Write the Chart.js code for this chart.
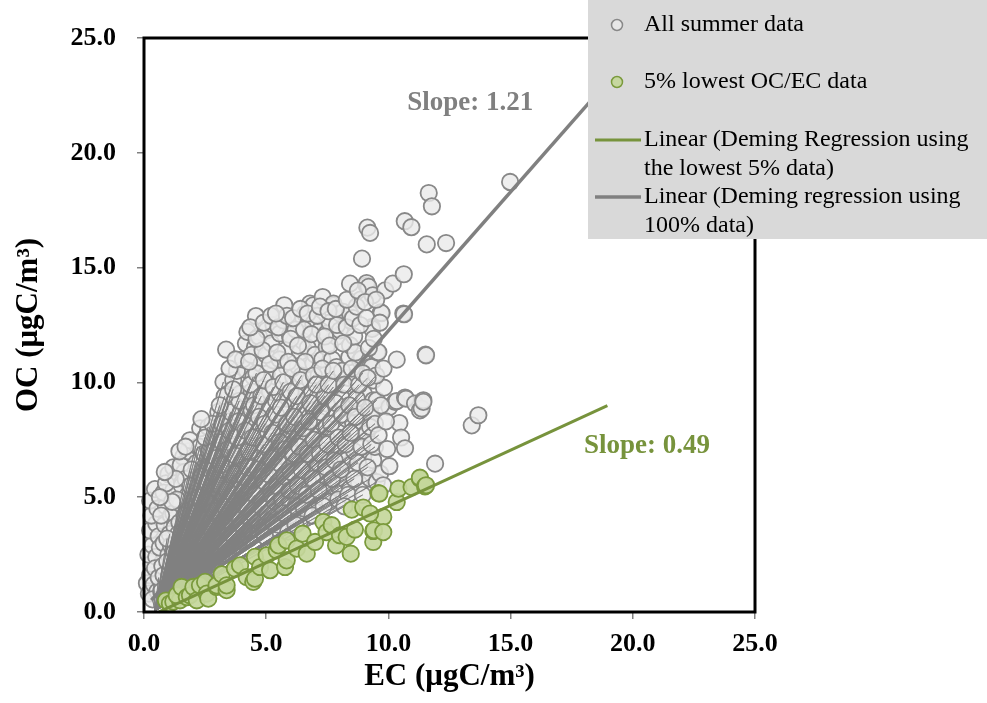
<!DOCTYPE html>
<html>
<head>
<meta charset="utf-8">
<title>OC vs EC – summer</title>
<script src="https://cdn.jsdelivr.net/npm/chart.js@4.4.1/dist/chart.umd.min.js"></script>
<style>
  html, body { margin: 0; padding: 0; background: #ffffff; }
  #wrap { position: relative; width: 987px; height: 703px; }
</style>
</head>
<body>
<div id="wrap"><canvas id="c" width="987" height="703"></canvas></div>
<script>
// ---------- data (EC, OC in µgC/m³) ----------
// all summer samples, edge and outlying samples
const summerPoints = [
  [0.12,1.25],[0.2,0.8],[0.25,1.6],[0.3,2.1],[0.18,2.5],[0.35,2.9],[0.25,3.55],[0.5,3.85],[0.3,4.2],[0.25,4.85],
  [0.45,5.35],[0.55,4.5],[0.6,3.3],[0.5,2.4],[0.45,1.9],[0.4,1.2],[0.55,0.9],[0.35,0.55],[0.65,2.8],[0.6,1.5],
  [0.75,2.0],[0.8,3.0],[0.85,3.8],[0.9,4.6],[0.8,5.2],[1.0,2.5],[1.05,3.4],[1.1,4.2],[1.2,5.3],[1.2,4.3],
  [1.15,1.5],[0.95,1.2],[1.0,6.0],[1.2,6.3],[0.9,5.6],[1.1,2.9],[1.25,3.7],[0.7,4.2],
  [1.35,2.2],[1.4,3.0],[1.45,3.9],[1.5,4.7],[1.55,5.5],[1.6,6.75],[1.65,6.1],[1.7,2.6],[1.75,3.5],[1.8,4.4],
  [1.45,1.6],[1.6,1.9],[1.5,6.4],[1.8,5.1],[1.7,5.8],[1.35,4.9],[1.8,7.0],
  [1.9,2.1],[1.95,3.1],[2.0,4.0],[2.05,4.9],[2.1,5.7],[2.15,6.5],[2.2,7.2],[2.3,8.0],[1.88,7.48],[2.29,7.19],
  [2.25,2.7],[2.3,3.6],[2.35,4.5],[2.4,5.3],[2.4,6.1],[2.0,1.9],[2.2,2.3],[2.45,6.9],[2.1,3.5],
  [2.55,2.4],[2.6,3.2],[2.65,4.1],[2.7,5.0],[2.75,5.8],[2.8,6.6],[2.85,7.4],[2.63,8.06],[2.9,2.8],[2.95,3.7],
  [3.0,4.6],[2.9,5.4],[3.0,6.2],[3.04,8.71],[2.95,7.7],[2.6,1.9],[2.8,2.2],[3.0,7.0],[2.7,6.3],
  [3.1,2.6],[3.15,3.3],[3.2,4.2],[3.25,5.1],[3.3,6.0],[3.35,6.8],[3.38,8.64],[3.25,7.91],[3.25,10.02],[3.36,11.43],
  [3.45,9.51],[3.5,3.0],[3.55,3.9],[3.6,4.8],[3.5,5.6],[3.55,6.4],[3.6,7.3],[3.65,10.09],[3.2,7.4],[3.4,2.5],
  [3.6,8.2],[3.45,9.0],
  [3.7,2.9],[3.75,3.6],[3.8,4.4],[3.85,5.3],[3.9,6.1],[3.93,7.77],[3.93,9.51],[3.95,6.9],[4.0,8.6],[4.05,3.3],
  [4.1,4.0],[4.15,4.9],[4.2,5.8],[4.2,8.35],[4.2,10.53],[4.17,11.69],[4.23,12.2],[4.1,6.6],[4.0,7.3],[4.15,9.2],
  [3.8,10.5],[4.05,11.0],[3.7,9.0],
  [4.3,3.2],[4.35,4.0],[4.4,4.8],[4.45,5.6],[4.47,10.24],[4.54,11.54],[4.58,12.89],[4.61,9.36],[4.5,6.5],[4.55,7.3],
  [4.6,8.1],[4.65,3.6],[4.7,4.4],[4.75,5.2],[4.8,6.0],[4.7,6.9],[4.8,7.7],[4.4,8.8],[4.75,9.9],[4.4,11.2],
  [4.8,10.8],[4.7,12.0],[4.4,9.6],
  [4.9,3.9],[4.95,4.7],[5.0,5.5],[5.02,7.77],[5.02,10.38],[5.02,12.27],[5.05,6.3],[5.1,7.1],[5.1,8.9],[5.15,9.6],
  [5.2,4.2],[5.25,5.0],[5.29,8.35],[5.29,10.96],[5.3,5.9],[5.35,6.7],[5.4,7.5],[5.0,11.2],[5.3,12.5],[5.2,11.7],
  [5.4,9.2],[5.35,3.6],[4.95,3.3],
  [5.5,4.4],[5.55,5.2],[5.56,9.51],[5.56,12.13],[5.6,6.1],[5.65,6.9],[5.7,7.8],[5.74,13.36],[5.75,8.6],[5.8,4.7],
  [5.84,10.67],[5.85,5.6],[5.9,9.3],[5.95,6.5],[5.97,12.05],[6.0,7.3],[6.0,8.1],[5.6,10.3],[5.8,11.4],[5.5,3.8],
  [5.7,12.7],[5.9,3.5],[5.55,11.0],
  [6.1,4.3],[6.11,10.24],[6.15,5.1],[6.2,5.9],[6.25,6.8],[6.3,7.6],[6.38,8.21],[6.38,11.32],[6.35,9.0],[6.4,4.0],
  [6.45,4.9],[6.5,5.7],[6.52,12.78],[6.55,6.6],[6.59,13.0],[6.6,7.4],[6.6,9.7],[6.3,10.7],[6.5,11.8],[6.2,12.3],
  [6.6,8.6],[6.45,10.3],
  [6.7,4.5],[6.75,5.3],[6.79,10.09],[6.79,13.43],[6.8,6.2],[6.85,7.0],[6.9,7.9],[6.93,10.82],[6.93,12.56],[6.93,13.36],
  [6.95,8.8],[7.0,4.8],[7.05,5.7],[7.07,11.83],[7.1,6.5],[7.15,9.4],[7.2,7.3],[7.2,12.27],[7.2,8.3],[6.7,11.5],
  [7.0,11.2],[7.15,10.3],[6.85,9.5],
  [7.31,13.72],[7.3,5.0],[7.35,5.9],[7.4,6.8],[7.45,7.7],[7.47,8.06],[7.47,9.08],[7.47,11.54],[7.47,12.13],[7.5,10.4],
  [7.6,5.3],[7.65,6.2],[7.7,7.1],[7.75,9.8],[7.75,13.36],[7.75,13.43],[7.8,8.6],[7.3,11.0],[7.6,12.6],[7.7,11.0],
  [7.4,9.4],[7.6,4.8],
  [7.88,10.67],[7.88,11.98],[7.88,6.03],[7.95,5.5],[8.0,7.0],[8.02,12.27],[8.02,13.0],[8.05,7.9],[8.1,9.3],[8.15,13.07],
  [8.2,5.8],[8.25,6.6],[8.3,8.4],[8.35,10.2],[8.4,11.1],[8.43,11.62],[8.43,12.7],[8.43,14.3],[8.43,13.0],[8.43,5.37],
  [8.4,7.4],[8.1,10.5],
  [8.56,8.93],[8.56,8.21],[8.56,6.17],[8.6,7.0],[8.7,10.09],[8.75,7.8],[8.84,10.96],[8.87,13.61],[8.91,11.04],[8.92,15.39],
  [8.97,6.75],[9.0,9.5],[8.6,12.0],[8.8,5.6],[8.65,11.3],[8.9,8.3],[8.7,9.3],
  [9.11,14.23],[9.11,14.33],[9.11,7.77],[9.14,16.74],[9.19,14.16],[9.25,16.51],[9.25,10.67],[9.25,8.64],[9.25,8.78],[9.25,5.81],
  [9.32,12.41],[9.32,10.67],[9.32,8.49],[9.25,8.06],[9.33,12.33],[9.36,13.79],[9.38,10.09],[9.38,9.22],[9.38,6.61],[9.45,7.19],
  [9.52,9.22],[9.52,5.66],[9.55,11.32],[9.59,11.32],[9.66,6.03],[9.69,13.05],[9.72,13.02],[9.79,5.52],
  [9.82,9.77],[9.87,14.01],[10.04,6.35],[10.04,8.93],[10.18,14.3],[10.27,9.15],[10.34,10.99],[10.34,9.19],[10.45,8.23],[10.52,7.6],
  [10.61,13.0],[10.63,14.71],[10.64,12.97],[10.67,17.02],[10.68,9.34],[10.68,7.13],[10.72,9.29],[10.94,16.76],[11.09,9.08],[11.29,8.78],
  [11.36,8.86],[11.43,9.22],[11.43,9.15],[11.52,11.21],[11.54,11.18],[11.57,16.01],[11.65,18.25],[11.78,17.67],[11.91,6.46],[12.36,16.07],
  [13.41,8.13],[13.68,8.57],[14.98,18.73]
];

// all summer samples, the packed core of the cloud
const summerCore = [
  [0.7,0.9],[0.8,1.6],[0.95,2.2],[1.05,1.0],[1.3,1.3],[1.25,2.6],[1.4,3.4],[1.55,2.5],[1.65,4.2],[1.75,1.4],
  [1.85,3.0],[1.9,5.5],[1.95,6.2],[0.95,3.2],[1.15,4.8],[1.3,5.8],[0.65,5.0],[0.85,6.1],[1.45,7.0],[1.7,7.2],
  [2.05,2.6],[2.15,4.3],[2.25,5.0],[2.35,5.9],[2.45,3.1],[2.5,4.0],[2.55,4.8],[2.6,5.6],[2.65,7.0],[2.7,2.7],
  [2.75,3.6],[2.85,4.4],[2.9,6.0],[2.95,6.7],[2.5,7.6],[2.8,8.2],[2.35,8.4],[2.6,2.2],[2.2,1.6],[2.45,1.8],
  [3.05,3.1],[3.1,5.5],[3.15,6.4],[3.2,8.2],[3.3,4.6],[3.35,3.7],[3.4,5.3],[3.45,7.1],[3.5,7.9],[3.55,8.7],
  [3.6,3.4],[3.65,5.1],[3.7,6.0],[3.75,6.8],[3.8,7.6],[3.85,8.3],[3.9,9.2],[3.95,4.0],[3.3,9.4],[3.5,10.6],
  [3.75,11.0],[3.9,3.1],[3.1,9.0],[3.65,9.7],
  [4.05,5.2],[4.1,5.9],[4.15,7.9],[4.25,4.5],[4.25,6.3],[4.3,7.0],[4.35,9.9],[4.4,3.8],[4.45,7.6],[4.5,9.0],
  [4.55,5.1],[4.6,10.4],[4.65,6.2],[4.7,8.5],[4.75,3.9],[4.8,9.4],[4.85,11.4],[4.9,5.7],[4.9,7.3],[4.95,8.2],
  [4.3,10.9],[4.6,11.9],[4.35,12.4],[4.9,12.6],[4.1,3.5],[4.55,4.1],[4.85,4.5],[4.9,10.1],
  [5.05,4.3],[5.1,6.0],[5.15,10.8],[5.2,6.7],[5.25,7.8],[5.3,9.8],[5.35,4.8],[5.4,8.6],[5.45,11.3],[5.45,5.5],
  [5.5,6.5],[5.55,7.4],[5.6,8.9],[5.65,4.9],[5.7,10.0],[5.75,5.9],[5.8,7.1],[5.85,8.2],[5.9,10.9],[5.95,4.2],
  [6.0,11.9],[6.0,9.6],[5.2,12.9],[5.5,12.4],[5.85,12.9],[5.3,3.9],[5.7,4.3],[5.95,5.3],[5.4,13.0],[6.0,6.1],
  [6.05,10.6],[6.1,6.9],[6.15,8.5],[6.2,4.6],[6.25,9.4],[6.3,11.6],[6.3,5.5],[6.35,7.2],[6.4,10.1],[6.45,6.2],
  [6.5,8.0],[6.55,12.3],[6.55,4.5],[6.6,10.9],[6.65,5.1],[6.7,6.9],[6.75,8.3],[6.8,9.1],[6.85,12.1],[6.9,5.8],
  [6.95,7.5],[6.95,10.3],[6.1,12.8],[6.4,13.2],[6.7,13.0],[6.2,3.8],[6.9,4.2],
  [7.05,9.9],[7.1,12.9],[7.15,5.3],[7.2,6.9],[7.25,8.7],[7.3,10.6],[7.35,4.6],[7.4,12.0],[7.45,6.3],[7.5,7.3],
  [7.55,9.9],[7.6,11.6],[7.65,8.2],[7.7,5.8],[7.75,10.5],[7.8,6.6],[7.85,9.1],[7.9,12.5],[7.95,7.6],[7.95,4.9],
  [7.2,13.3],[7.55,13.1],[7.85,13.2],
  [8.05,6.2],[8.1,8.6],[8.15,11.7],[8.2,9.9],[8.25,7.3],[8.3,12.4],[8.35,5.1],[8.4,9.0],[8.45,7.8],[8.5,10.6],
  [8.55,12.8],[8.6,5.8],[8.65,8.5],[8.7,13.3],[8.75,6.5],[8.8,9.9],[8.85,12.5],[8.9,7.2],[8.95,10.4],[8.3,13.6],
  [8.75,14.0],[8.2,4.6],[8.95,5.1],
  [9.05,8.9],[9.1,12.8],[9.15,6.3],[9.2,11.5],[9.3,7.3],[9.4,11.9],[9.45,8.2],[9.5,10.3],[9.6,7.7],[9.65,12.6],
  [9.7,9.0],[9.8,10.6],[9.9,8.3],[9.95,7.1],[9.05,13.5],[9.5,13.6],[9.15,10.2]
];

// 5 % of samples with the lowest OC/EC ratio
const lowestPoints = [
  [0.9,0.5],[1.06,0.37],[1.2,0.45],[1.47,0.51],[1.34,0.73],[1.54,1.09],[1.75,0.65],[1.88,0.73],[2.02,1.09],[2.16,0.51],
  [2.29,1.16],[2.5,1.31],[2.57,0.8],[2.63,0.58],[2.97,1.09],[2.97,1.16],[3.18,1.64],[3.38,0.95],[3.38,1.16],[3.72,1.89],
  [3.93,2.03],[4.2,1.52],[4.47,1.31],[4.54,1.45],[4.54,2.4],[4.75,1.96],[5.02,2.47],[5.16,1.82],[5.43,2.69],[5.5,2.9],
  [5.77,1.96],[5.84,2.25],[5.84,3.12],[6.25,2.76],[6.49,3.41],[6.66,2.54],[7.0,3.05],[7.34,3.92],[7.47,3.48],[7.68,3.78],
  [7.86,2.9],[8.02,3.34],[8.29,3.27],[8.46,2.54],[8.5,4.46],[8.63,3.59],[8.97,4.55],[9.38,3.05],[9.38,3.53],[9.41,3.56],
  [9.59,5.18],[9.63,5.16],[9.79,4.14],[9.79,3.48],[10.34,4.79],[10.41,5.37],[10.95,5.44],[11.29,5.81],[11.29,5.85],[11.5,5.47],
  [11.54,5.52],[9.25,4.29]
];

// Deming regression fits: slope, intercept and EC span of each drawn line
const slopeAll = 1.21, interceptAll = 0.15, spanAll = [0.3, 19.5];
const slopeLow = 0.49, interceptLow = -0.3, spanLow = [0.62, 18.96];

// common origin of the thin guide rays through the bulk of the data,
// drawn only to samples inside these EC, OC and OC/EC limits
const rayOrigin = [0.45, 0.05];
const rayMaxEC = 9.6, rayMaxOC = 10.5, rayMaxRatio = 3.5;

const axisTicks = [0, 5, 10, 15, 20, 25];
const legendLabels = [
  ['All summer data'],
  ['5% lowest OC/EC data'],
  ['Linear (Deming Regression using', 'the lowest 5% data)'],
  ['Linear (Deming regression using', '100% data)']
];

// slope annotations placed at (EC, OC)
const slopeNoteAll = { text: 'Slope: 1.21', at: [13.35, 22.15] };
const slopeNoteLow = { text: 'Slope: 0.49', at: [20.58, 7.22] };

// ---------- styling ----------
const SERIF = "'Liberation Serif', 'Times New Roman', serif";
const GREY_LINE = '#808080';
const GREEN_LINE = '#77933c';

const toXY = p => ({ x: p[0], y: p[1] });
const fitLine = (m, b, span) => span.map(x => ({ x, y: m * x + b }));

const allSummer = summerPoints.concat(summerCore);

const rayData = [];
allSummer
  .filter(p => p[0] <= rayMaxEC && p[1] <= rayMaxOC && p[1] / p[0] <= rayMaxRatio)
  .forEach(p => { rayData.push(toXY(rayOrigin), toXY(p)); });

const datasets = [
  { // drawn on top
    label: legendLabels[3].join(' '),
    data: fitLine(slopeAll, interceptAll, spanAll),
    showLine: true, borderColor: GREY_LINE, borderWidth: 3.5, pointRadius: 0,
    order: 0, clip: false
  },
  {
    label: legendLabels[2].join(' '),
    data: fitLine(slopeLow, interceptLow, spanLow),
    showLine: true, borderColor: GREEN_LINE, borderWidth: 3, pointRadius: 0,
    order: 1, clip: false
  },
  {
    label: legendLabels[1][0],
    data: lowestPoints.map(toXY),
    pointRadius: 8.2, pointBorderWidth: 1.8,
    pointBackgroundColor: 'rgba(196,215,155,0.92)', pointBorderColor: '#7a9a3c',
    order: 2, clip: false
  },
  {
    label: 'rays',
    data: rayData,
    showLine: true, borderColor: 'rgba(128,128,128,0.85)', borderWidth: 1, pointRadius: 0,
    order: 3, clip: false
  },
  {
    label: legendLabels[0][0],
    data: allSummer.map(toXY),
    pointRadius: 8.2, pointBorderWidth: 1.8,
    pointBackgroundColor: 'rgba(234,234,234,0.8)', pointBorderColor: '#888888',
    order: 4, clip: false
  }
];

// frame round the plot area, drawn over the markers
const framePlugin = {
  id: 'frame',
  afterDatasetsDraw(chart) {
    const { ctx, chartArea: a } = chart;
    ctx.save();
    ctx.strokeStyle = '#000';
    ctx.lineWidth = 3;
    ctx.strokeRect(a.left, a.top, a.right - a.left, a.bottom - a.top);
    ctx.restore();
  }
};

// slope annotations
const notesPlugin = {
  id: 'notes',
  afterDatasetsDraw(chart) {
    const { ctx, scales: { x, y } } = chart;
    ctx.save();
    ctx.font = 'bold 27px ' + SERIF;
    ctx.textAlign = 'center';
    ctx.textBaseline = 'middle';
    ctx.fillStyle = GREY_LINE;
    ctx.fillText(slopeNoteAll.text, x.getPixelForValue(slopeNoteAll.at[0]), y.getPixelForValue(slopeNoteAll.at[1]));
    ctx.fillStyle = GREEN_LINE;
    ctx.fillText(slopeNoteLow.text, x.getPixelForValue(slopeNoteLow.at[0]), y.getPixelForValue(slopeNoteLow.at[1]));
    ctx.restore();
  }
};

// legend panel in the upper right corner
const legendPlugin = {
  id: 'panelLegend',
  afterDraw(chart) {
    const { ctx } = chart;
    const ds = chart.data.datasets;
    const box = { x: 588, y: 0, w: 399, h: 239 };
    ctx.save();
    ctx.fillStyle = '#d9d9d9';
    ctx.fillRect(box.x, box.y, box.w, box.h);
    ctx.font = '24px ' + SERIF;
    ctx.textAlign = 'left';
    ctx.textBaseline = 'middle';
    const textX = 644;
    const rows = [
      { kind: 'point', ds: ds[4], lines: legendLabels[0], y: 25 },
      { kind: 'point', ds: ds[2], lines: legendLabels[1], y: 82 },
      { kind: 'line', ds: ds[1], lines: legendLabels[2], y: 140 },
      { kind: 'line', ds: ds[0], lines: legendLabels[3], y: 197 }
    ];
    rows.forEach(r => {
      if (r.kind === 'point') {
        ctx.beginPath();
        ctx.arc(617, r.y, 5.5, 0, Math.PI * 2);
        ctx.fillStyle = r.ds.pointBackgroundColor;
        ctx.fill();
        ctx.lineWidth = 1.5;
        ctx.strokeStyle = r.ds.pointBorderColor;
        ctx.stroke();
      } else {
        ctx.beginPath();
        ctx.moveTo(595, r.y);
        ctx.lineTo(641, r.y);
        ctx.lineWidth = r.ds.borderWidth;
        ctx.strokeStyle = r.ds.borderColor;
        ctx.stroke();
      }
      ctx.fillStyle = '#000';
      r.lines.forEach((t, i) => ctx.fillText(t, textX, r.y + i * 29));
    });
    ctx.restore();
  }
};

const tickFont = { family: SERIF, size: 26, weight: 'bold' };
const titleFont = { family: SERIF, size: 31, weight: 'bold' };

new Chart(document.getElementById('c').getContext('2d'), {
  type: 'scatter',
  data: { datasets },
  options: {
    responsive: false,
    animation: false,
    events: [],
    layout: { padding: { left: 0, right: 232, top: 38, bottom: 0 } },
    plugins: { legend: { display: false }, tooltip: { enabled: false } },
    scales: {
      x: {
        type: 'linear', min: axisTicks[0], max: axisTicks[axisTicks.length - 1],
        afterBuildTicks: s => { s.ticks = axisTicks.map(v => ({ value: v })); },
        ticks: { callback: v => Number(v).toFixed(1), font: tickFont, color: '#000', padding: 10, maxRotation: 0 },
        grid: { drawOnChartArea: false, tickLength: 7, color: '#808080', lineWidth: 1.5 },
        border: { display: false },
        title: { display: true, text: 'EC (μgC/m³)', font: titleFont, color: '#000', padding: { top: 0, bottom: 7 } },
        afterFit: s => { s.height = 91; }
      },
      y: {
        type: 'linear', min: axisTicks[0], max: axisTicks[axisTicks.length - 1],
        afterBuildTicks: s => { s.ticks = axisTicks.map(v => ({ value: v })); },
        ticks: { callback: v => Number(v).toFixed(1), font: tickFont, color: '#000', padding: 21 },
        grid: { drawOnChartArea: false, tickLength: 7, color: '#808080', lineWidth: 1.5 },
        border: { display: false },
        title: { display: true, text: 'OC (μgC/m³)', font: titleFont, color: '#000', padding: { top: 10, bottom: 0 } },
        afterFit: s => { s.width = 144; }
      }
    }
  },
  plugins: [framePlugin, notesPlugin, legendPlugin]
});
</script>
</body>
</html>
